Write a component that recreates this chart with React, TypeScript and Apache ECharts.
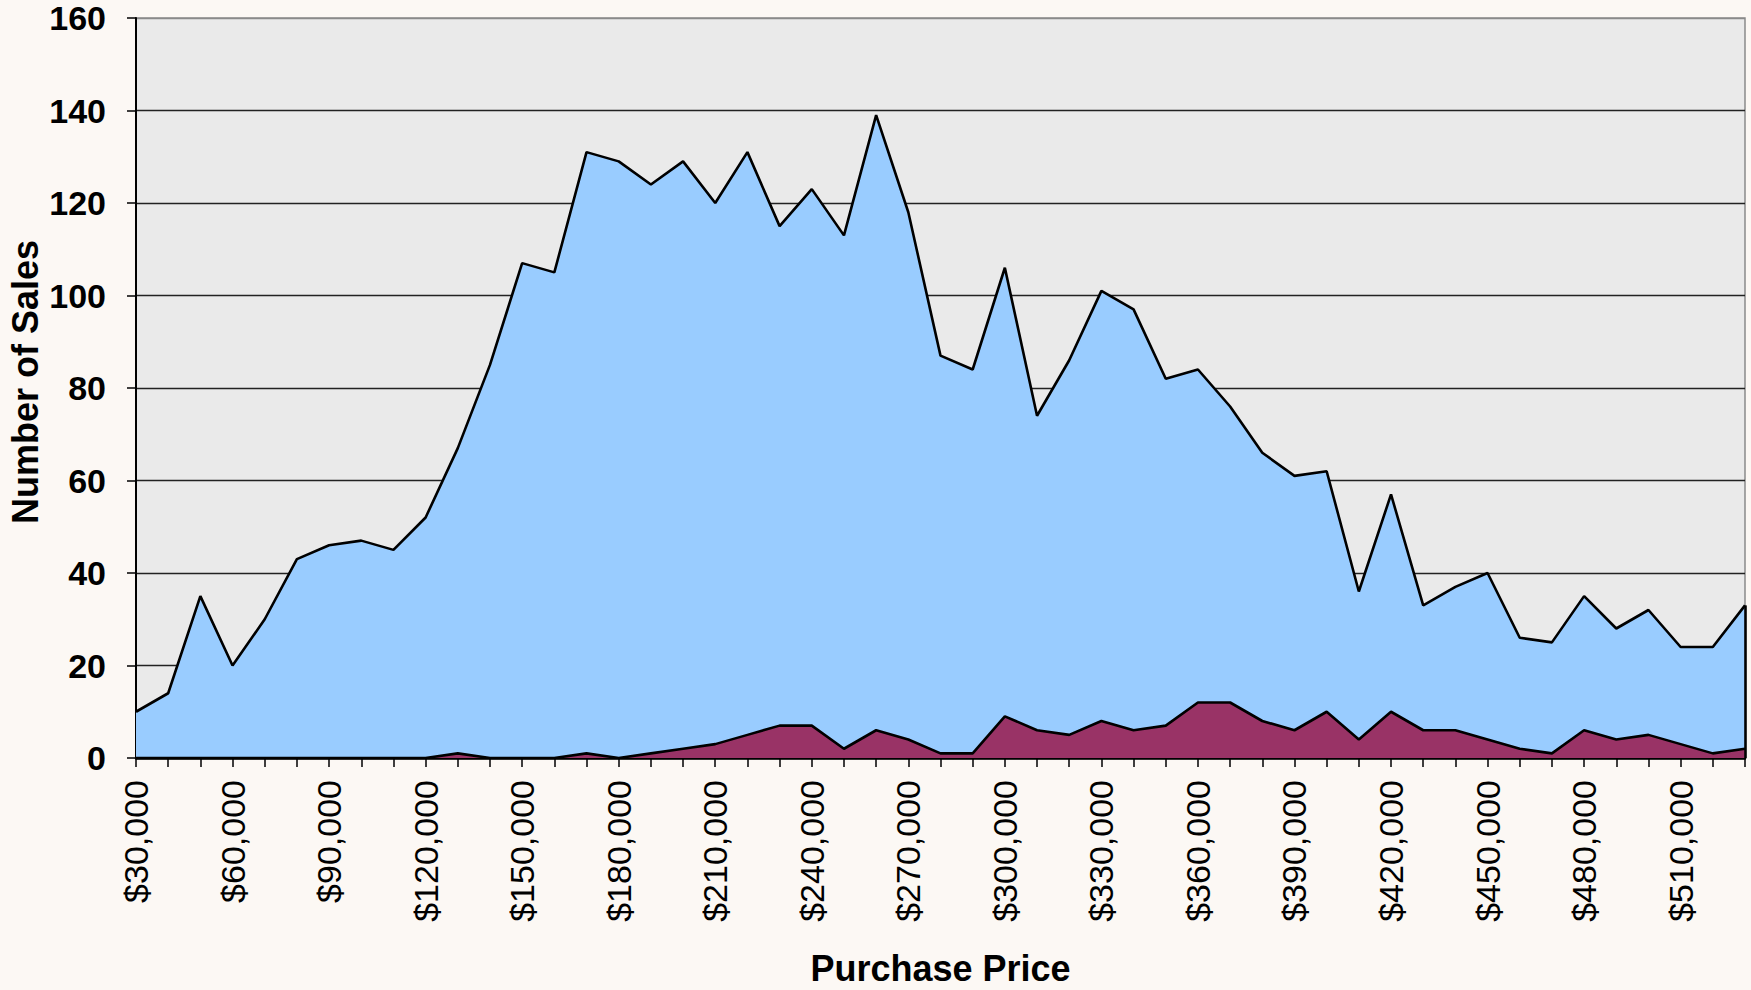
import React, { useEffect, useRef } from "react";
import * as echarts from "echarts";

const categories = [
  "$30,000", "$40,000", "$50,000", "$60,000", "$70,000", "$80,000", "$90,000", "$100,000",
  "$110,000", "$120,000", "$130,000", "$140,000", "$150,000", "$160,000", "$170,000", "$180,000",
  "$190,000", "$200,000", "$210,000", "$220,000", "$230,000", "$240,000", "$250,000", "$260,000",
  "$270,000", "$280,000", "$290,000", "$300,000", "$310,000", "$320,000", "$330,000", "$340,000",
  "$350,000", "$360,000", "$370,000", "$380,000", "$390,000", "$400,000", "$410,000", "$420,000",
  "$430,000", "$440,000", "$450,000", "$460,000", "$470,000", "$480,000", "$490,000", "$500,000",
  "$510,000", "$520,000", "$530,000",
];

const totalSales = [
  10, 14, 35, 20, 30, 43, 46, 47, 45, 52,
  67, 85, 107, 105, 131, 129, 124, 129, 120, 131,
  115, 123, 113, 139, 118, 87, 84, 106, 74, 86,
  101, 97, 82, 84, 76, 66, 61, 62, 36, 57,
  33, 37, 40, 26, 25, 35, 28, 32, 24, 24,
  33,
];

const subsetSales = [
  0, 0, 0, 0, 0, 0, 0, 0, 0, 0,
  1, 0, 0, 0, 1, 0, 1, 2, 3, 5,
  7, 7, 2, 6, 4, 1, 1, 9, 6, 5,
  8, 6, 7, 12, 12, 8, 6, 10, 4, 10,
  6, 6, 4, 2, 1, 6, 4, 5, 3, 1,
  2,
];

const yTicks = { min: 0, max: 160, interval: 20 };

const FONT = "'Liberation Sans', Arial, Helvetica, sans-serif";

export default function App() {
  const ref = useRef<HTMLDivElement>(null);

  useEffect(() => {
    document.body.style.margin = "0";
    if (!ref.current) return;
    const chart = echarts.init(ref.current, undefined, { renderer: "svg" });
    const lastIdx = categories.length - 1;
    chart.setOption({
      animation: false,
      backgroundColor: "#FCF8F4",
      grid: {
        left: 136,
        right: 6,
        top: 18,
        bottom: 232,
        containLabel: false,
        outerBoundsMode: "none",
        show: true,
        backgroundColor: "#EAEAEA",
        borderColor: "#8a8a8a",
        borderWidth: 1.5,
      },
      graphic: [
        {
          type: "text",
          x: 25,
          y: 382,
          rotation: Math.PI / 2,
          style: {
            text: "Number of Sales",
            fontFamily: FONT,
            fontWeight: "bold",
            fontSize: 36,
            fill: "#000",
            textAlign: "center",
            textVerticalAlign: "middle",
          },
        },
      ],
      xAxis: {
        type: "category",
        data: categories,
        boundaryGap: false,
        name: "Purchase Price",
        nameLocation: "middle",
        nameGap: 192,
        nameTextStyle: { fontFamily: FONT, fontWeight: "bold", fontSize: 36, color: "#000" },
        axisLine: { show: true, lineStyle: { color: "#000", width: 2.5 } },
        axisTick: { show: true, interval: 0, length: 9, lineStyle: { color: "#000", width: 1.5 } },
        axisLabel: {
          interval: 2,
          rotate: 90,
          margin: 22,
          fontFamily: FONT,
          fontWeight: "normal",
          fontSize: 34,
          color: "#000",
        },
        splitLine: { show: false },
      },
      yAxis: {
        type: "value",
        min: yTicks.min,
        max: yTicks.max,
        interval: yTicks.interval,
        axisLine: { show: true, lineStyle: { color: "#000", width: 2 } },
        axisTick: { show: true, length: 9, lineStyle: { color: "#000", width: 1.5 } },
        axisLabel: {
          margin: 30,
          fontFamily: FONT,
          fontWeight: "bold",
          fontSize: 34,
          color: "#000",
        },
        splitLine: {
          show: true,
          lineStyle: {
            color: ["#222", "#222", "#222", "#222", "#222", "#222", "#222", "#222", "#8a8a8a"],
            width: 1.3,
          },
        },
      },
      series: [
        {
          name: "All Sales",
          type: "line",
          data: totalSales,
          symbol: "none",
          lineStyle: { color: "#000", width: 2.6 },
          areaStyle: { color: "#99CCFF", opacity: 1 },
          z: 2,
          markLine: {
            silent: true,
            symbol: "none",
            label: { show: false },
            lineStyle: { color: "#000", width: 2.6, type: "solid" },
            data: [
              [
                { coord: [lastIdx, 0] },
                { coord: [lastIdx, totalSales[lastIdx]] },
              ],
            ],
          },
        },
        {
          name: "Subset Sales",
          type: "line",
          data: subsetSales,
          symbol: "none",
          lineStyle: { color: "#000", width: 2.6 },
          areaStyle: { color: "#993366", opacity: 1 },
          z: 3,
        },
      ],
    });
    return () => chart.dispose();
  }, []);

  return <div ref={ref} style={{ width: 1751, height: 990 }} />;
}
